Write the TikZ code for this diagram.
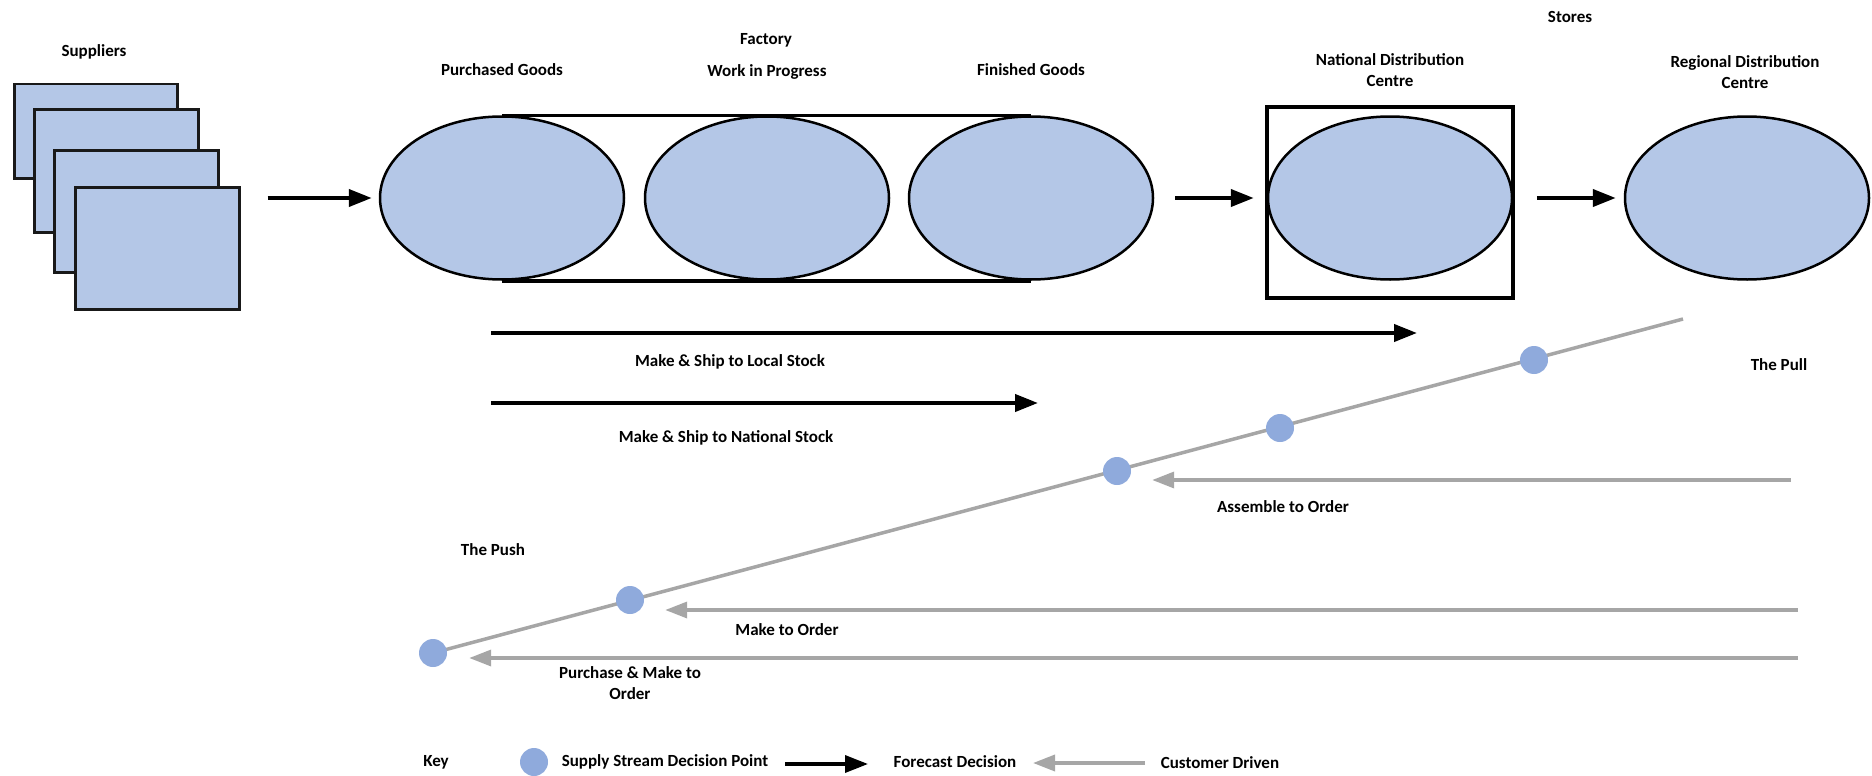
\documentclass[tikz,border=0pt]{standalone}
\usepackage{fontspec}
\setmainfont{Carlito}
\usetikzlibrary{shapes.geometric,arrows.meta,backgrounds}
\definecolor{stockblue}{HTML}{B4C7E7}
\definecolor{dotblue}{HTML}{8FAADC}
\definecolor{pullgray}{HTML}{A6A6A6}
\begin{document}
\begin{tikzpicture}[x=1pt,y=-1pt,
  lbl/.style={font=\fontsize{17}{20.5}\selectfont\bfseries, align=center, inner sep=0},
  supbox/.style={rectangle, draw=black!90, line width=2.5pt, fill=stockblue, anchor=north west, inner sep=0},
  stock/.style={ellipse, draw=black, line width=2.5pt, fill=stockblue, minimum width=244, minimum height=163, inner sep=0},
  dpoint/.style={circle, fill=dotblue, minimum size=28, inner sep=0},
  fwd/.style={line width=4pt, -{Triangle[length=23pt,width=17pt]}},
  back/.style={pullgray, line width=3.5pt, -{Triangle[length=22pt,width=16pt]}},
  pullline/.style={pullgray, line width=3.5pt}]
\useasboundingbox (0,0) rectangle (1872,776);

% suppliers
\node[lbl] (supl) at (94,52) {Suppliers};
\node[supbox, minimum width=163, minimum height=94]  (s1) at (13,83)  {};
\node[supbox, minimum width=164, minimum height=123] (s2) at (33,108) {};
\node[supbox, minimum width=164, minimum height=122] (s3) at (53,149) {};
\node[supbox, minimum width=164, minimum height=122] (s4) at (74,186) {};

% factory stock points
\node[lbl] (factory) at (766,40) {Factory};
\node[lbl] (pgl) at (502,70) {Purchased Goods};
\node[lbl] (wipl) at (767,72) {Work in Progress};
\node[lbl] (fgl) at (1031,70) {Finished Goods};
\node[stock] (e1) at (502,198) {};
\node[stock] (e2) at (767,198) {};
\node[stock] (e3) at (1031,198) {};
\begin{scope}[on background layer]
  \draw[line width=3.5pt] (e1.north) -- (e3.north);
  \draw[line width=3.5pt] (e1.south) -- (e3.south);
\end{scope}

% distribution
\node[lbl] (stores) at (1570,17) {Stores};
\node[lbl] (ndcl) at (1390,70) {National Distribution\\Centre};
\node[lbl] (rdcl) at (1745,72) {Regional Distribution\\Centre};
\node[draw, line width=3.5pt, minimum width=246, minimum height=191, inner sep=0] (ndcbox) at (1390,202.5) {};
\node[stock] (ndc) at (1390,198) {};
\node[stock] (rdc) at (1747,198) {};

% flow of goods
\draw[fwd, shorten <=27pt, shorten >=7pt] (s4.east |- e1.west) -- (e1.west);
\draw[fwd, shorten <=21pt, shorten >=13pt] (e3.east) -- (ndc.west);
\draw[fwd, shorten <=22pt, shorten >=8pt] (ndcbox.east |- rdc.west) -- (rdc.west);

% forecast driven strategies
\coordinate (mslA) at (491,333);
\coordinate (mslB) at (1417,333);
\coordinate (msnA) at (491,403);
\coordinate (msnB) at (1038,403);
\draw[fwd] (mslA) -- (mslB);
\draw[fwd] (msnA) -- (msnB);
\node[lbl] (msll) at (730,362) {Make \& Ship to Local Stock};
\node[lbl] (msnl) at (726,438) {Make \& Ship to National Stock};

% push / pull line with decision points
\coordinate (pushstart) at (433,653);
\coordinate (pullend) at (1683,319);
\draw[pullline] (pushstart) -- (pullend);
\node[dpoint] (d1) at (pushstart) {};
\node[dpoint] (d2) at (630,600) {};
\node[dpoint] (d3) at (1117,471) {};
\node[dpoint] (d4) at (1280,428) {};
\node[dpoint] (d5) at (1534,360) {};
\node[lbl] (pulll) at (1779,365) {The Pull};
\node[lbl] (pushl) at (493,550) {The Push};

% customer driven strategies
\coordinate (atoR) at (1791,480);
\coordinate (mtoR) at (1798,610);
\coordinate (pmoR) at (1798,658);
\draw[back, shorten >=21pt] (atoR) -- (atoR -| d3.east);
\draw[back, shorten >=21pt] (mtoR) -- (mtoR -| d2.east);
\draw[back, shorten >=22pt] (pmoR) -- (pmoR -| d1.east);
\node[lbl] (atol) at (1283,507) {Assemble to Order};
\node[lbl] (mtol) at (787,630) {Make to Order};
\node[lbl] (pmol) at (630,683) {Purchase \& Make to\\Order};

% key
\node[lbl] (key) at (436,762) {Key};
\node[dpoint] (kdot) at (534,762) {};
\node[lbl] (kdotl) at (665,762) {Supply Stream Decision Point};
\coordinate (kfA) at (785,764);
\coordinate (kfB) at (868,764);
\draw[fwd, line width=3.5pt] (kfA) -- (kfB);
\node[lbl] (kfl) at (955,762) {Forecast Decision};
\coordinate (kcA) at (1145,763);
\coordinate (kcB) at (1033,763);
\draw[back] (kcA) -- (kcB);
\node[lbl] (kcl) at (1220,763) {Customer Driven};
\end{tikzpicture}
\end{document}
